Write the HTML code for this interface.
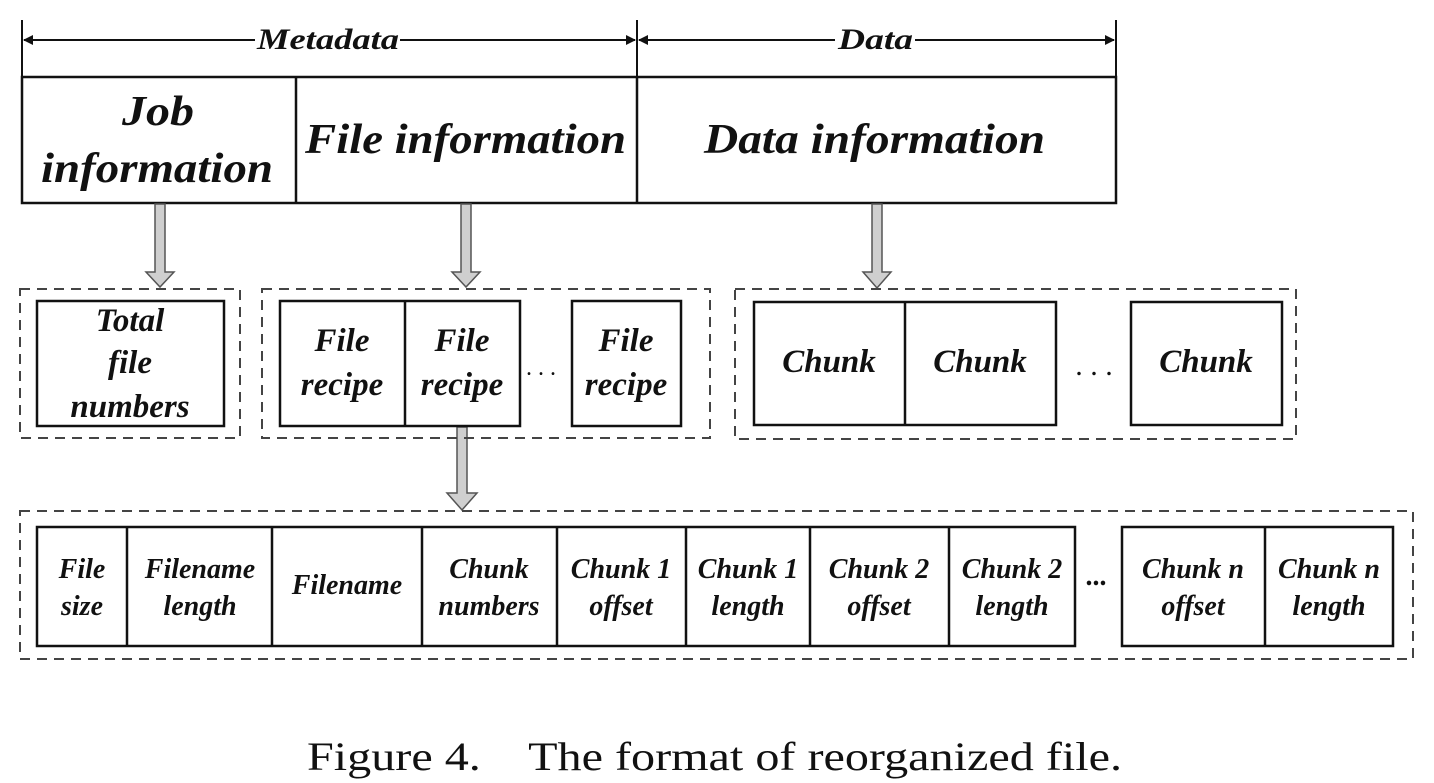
<!DOCTYPE html>
<html><head><meta charset="utf-8"><style>
html,body{margin:0;padding:0;background:#fff;}
svg{display:block;}
.b{font-family:"Liberation Serif","Times New Roman",Times,serif;font-weight:bold;font-style:italic;fill:#111;}
.r{font-family:"Liberation Serif","Times New Roman",Times,serif;fill:#111;}
</style></head><body>
<svg width="1434" height="783" viewBox="0 0 1434 783">
<defs>
<marker id="ah" markerWidth="10" markerHeight="10" refX="9" refY="5" orient="auto" markerUnits="userSpaceOnUse"><path d="M0,0 L10,5 L0,10 Z" fill="#111"/></marker>
</defs>
<g stroke="#111" stroke-width="2" fill="none">
<line x1="22" y1="20" x2="22" y2="77"/><line x1="637" y1="20" x2="637" y2="77"/><line x1="1116" y1="20" x2="1116" y2="77"/>
<line x1="255" y1="40" x2="24" y2="40" marker-end="url(#ah)"/><line x1="400" y1="40" x2="635" y2="40" marker-end="url(#ah)"/>
<line x1="835" y1="40" x2="639" y2="40" marker-end="url(#ah)"/><line x1="915" y1="40" x2="1114" y2="40" marker-end="url(#ah)"/>
</g>
<text class="b" x="257" y="49" font-size="30" textLength="142" lengthAdjust="spacingAndGlyphs">Metadata</text>
<text class="b" x="838" y="49" font-size="30" textLength="75" lengthAdjust="spacingAndGlyphs">Data</text>

<g stroke="#111" stroke-width="2.5" fill="none">
<rect x="22" y="77" width="1094" height="126"/><line x1="296" y1="77" x2="296" y2="203"/><line x1="637" y1="77" x2="637" y2="203"/>
</g>
<text class="b" x="122" y="125" font-size="42" textLength="72" lengthAdjust="spacingAndGlyphs">Job</text>
<text class="b" x="41" y="182" font-size="42" textLength="232" lengthAdjust="spacingAndGlyphs">information</text>
<text class="b" x="305" y="153" font-size="42" textLength="321" lengthAdjust="spacingAndGlyphs">File information</text>
<text class="b" x="704" y="153" font-size="42" textLength="341" lengthAdjust="spacingAndGlyphs">Data information</text>

<g fill="#cfcfcf" stroke="#555" stroke-width="1.5">
<path d="M155,204 L165,204 L165,272 L174,272 L160,287 L146,272 L155,272 Z"/>
<path d="M461,204 L471,204 L471,272 L480,272 L466,287 L452,272 L461,272 Z"/>
<path d="M872,204 L882,204 L882,272 L891,272 L877,288 L863,272 L872,272 Z"/>
<path d="M457,427 L467,427 L467,493 L477,493 L462,510 L447,493 L457,493 Z"/>
</g>

<g stroke="#444" stroke-width="2" stroke-dasharray="10,7" fill="none">
<rect x="20" y="289" width="220" height="149"/>
<rect x="262" y="289" width="448" height="149"/>
<rect x="735" y="289" width="561" height="150"/>
<rect x="20" y="511" width="1393" height="148"/>
</g>

<g stroke="#111" stroke-width="2.5" fill="none">
<rect x="37" y="301" width="187" height="125"/>
<rect x="280" y="301" width="240" height="125"/><line x1="405" y1="301" x2="405" y2="426"/>
<rect x="572" y="301" width="109" height="125"/>
<rect x="754" y="302" width="302" height="123"/><line x1="905" y1="302" x2="905" y2="425"/>
<rect x="1131" y="302" width="151" height="123"/>
</g>
<g class="b" font-size="33" text-anchor="middle">
<text x="130" y="331">Total</text>
<text x="130" y="373">file</text>
<text x="130" y="417">numbers</text>
<text x="342" y="351">File</text>
<text x="342" y="395">recipe</text>
<text x="462" y="351">File</text>
<text x="462" y="395">recipe</text>
<text x="626" y="351">File</text>
<text x="626" y="395">recipe</text>
<text x="829" y="372">Chunk</text>
<text x="980" y="372">Chunk</text>
<text x="1206" y="372">Chunk</text>
</g>
<text class="r" x="541" y="375" font-size="24" text-anchor="middle">. . .</text>
<text class="r" x="1094" y="375" font-size="30" text-anchor="middle">. . .</text>

<g stroke="#111" stroke-width="2.5" fill="none">
<rect x="37" y="527" width="1038" height="119"/>
<line x1="127" y1="527" x2="127" y2="646"/><line x1="272" y1="527" x2="272" y2="646"/><line x1="422" y1="527" x2="422" y2="646"/>
<line x1="557" y1="527" x2="557" y2="646"/><line x1="686" y1="527" x2="686" y2="646"/><line x1="810" y1="527" x2="810" y2="646"/><line x1="949" y1="527" x2="949" y2="646"/>
<rect x="1122" y="527" width="271" height="119"/><line x1="1265" y1="527" x2="1265" y2="646"/>
</g>
<g class="b" font-size="28" text-anchor="middle">
<text x="82" y="578">File</text><text x="82" y="615">size</text>
<text x="200" y="578">Filename</text><text x="200" y="615">length</text>
<text x="347" y="594">Filename</text>
<text x="489" y="578">Chunk</text><text x="489" y="615">numbers</text>
<text x="621" y="578">Chunk 1</text><text x="621" y="615">offset</text>
<text x="748" y="578">Chunk 1</text><text x="748" y="615">length</text>
<text x="879" y="578">Chunk 2</text><text x="879" y="615">offset</text>
<text x="1012" y="578">Chunk 2</text><text x="1012" y="615">length</text>
<text x="1193" y="578">Chunk n</text><text x="1193" y="615">offset</text>
<text x="1329" y="578">Chunk n</text><text x="1329" y="615">length</text>
<text x="1097" y="585">...</text>
</g>

<text class="r" x="307" y="770" font-size="40" textLength="815" lengthAdjust="spacingAndGlyphs" xml:space="preserve">Figure 4.    The format of reorganized file.</text>
</svg>
</body></html>
